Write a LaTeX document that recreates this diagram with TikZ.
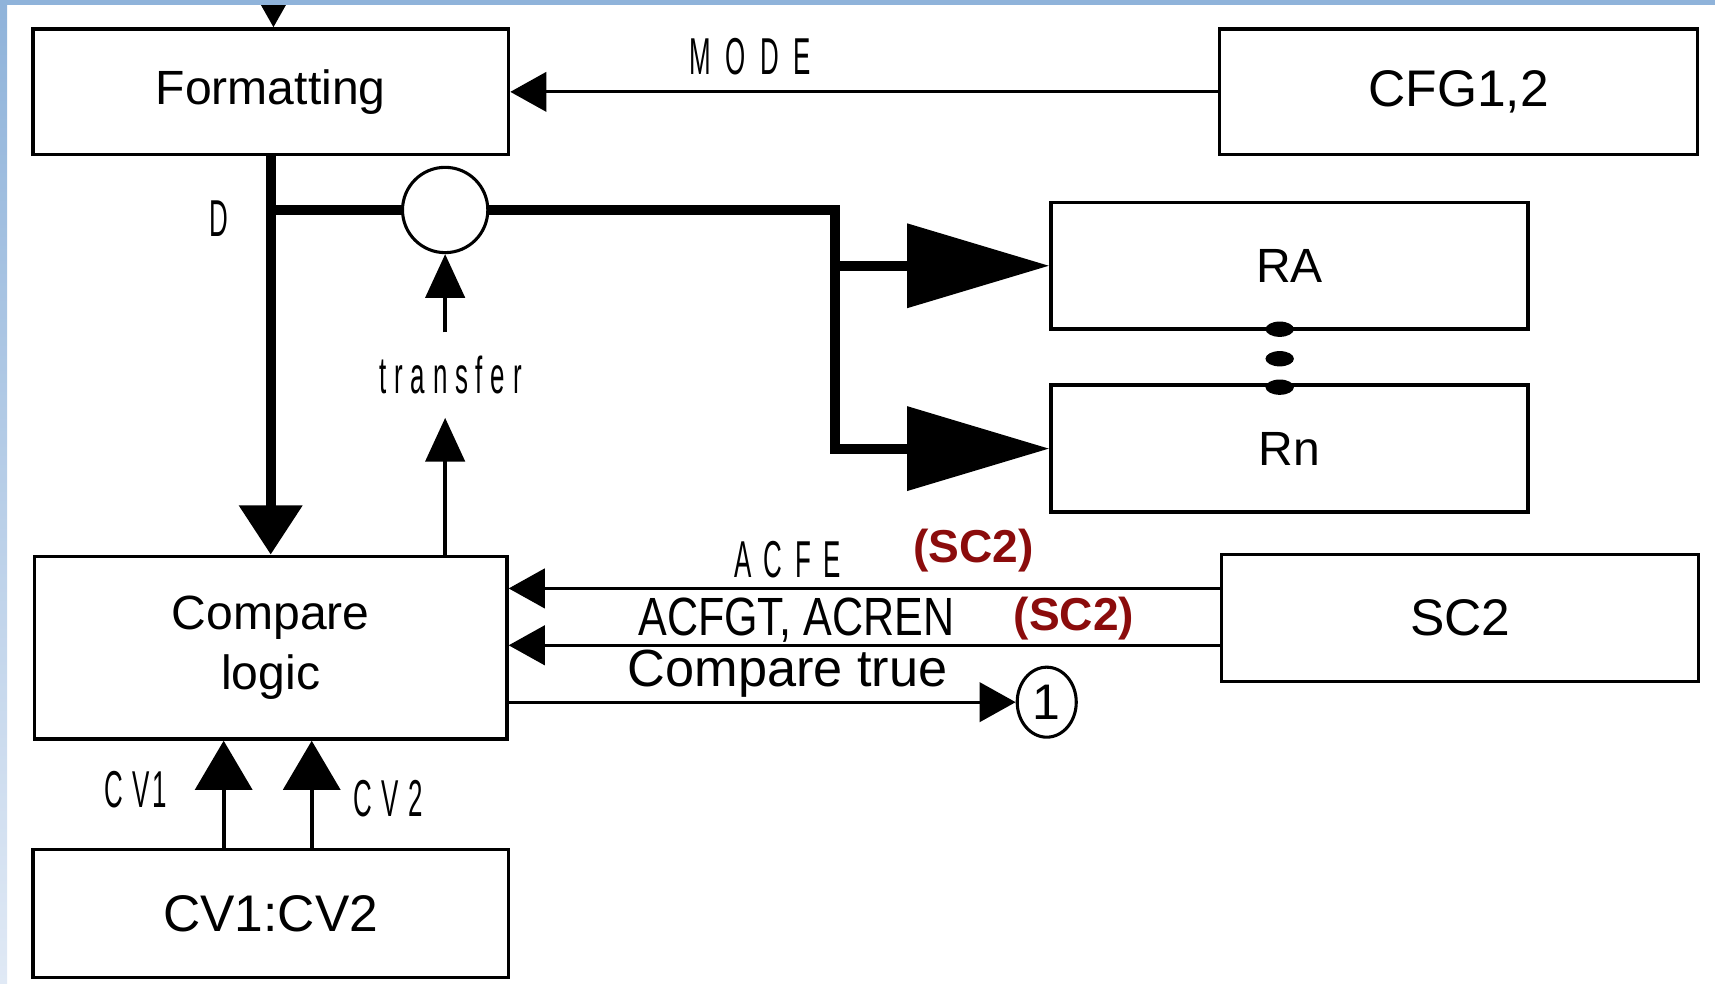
\documentclass[tikz,border=0pt]{standalone}
\usepackage{fontspec}
\setmainfont{Liberation Sans}
\newfontfamily\condfont[FakeStretch=0.5]{Liberation Sans}
\newfontfamily\semicondfont[FakeStretch=0.8]{Liberation Sans}
\usetikzlibrary{arrows.meta,calc,positioning,shapes.geometric}
\definecolor{scred}{RGB}{139,12,12}
\definecolor{frameblue}{RGB}{143,179,218}
\definecolor{frameblue2}{RGB}{224,233,245}

\begin{document}
\begin{tikzpicture}[
      block/.style={draw=black, line width=0.9pt, minimum width=4.35cm, minimum height=1.15cm,
        align=center, font=\fontsize{12.5}{15.6}\selectfont},
      tapnode/.style={draw=black, line width=0.8pt, circle, minimum size=0.78cm, inner sep=0pt},
      connector/.style={draw=black, line width=0.8pt, ellipse, minimum width=0.54cm,
        minimum height=0.64cm, inner sep=0pt, font=\fontsize{13}{15}\selectfont},
      sig/.style={font={\fontsize{13.5}{16}\condfont\addfontfeature{LetterSpace=#1}}, inner sep=0pt},
      sig/.default=0,
      note/.style={font=\bfseries\fontsize{12}{14}\selectfont, text=scred, inner sep=0pt},
      plain/.style={font=\fontsize{13.6}{16}\selectfont, inner sep=0pt},
      wire/.style={line width=0.8pt, -{Triangle[length=3.3mm,width=3.6mm]}},
      upwire/.style={line width=0.9pt, -{Triangle[length=4mm,width=3.6mm]}},
      cvwire/.style={line width=1.1pt, -{Triangle[length=4.5mm,width=5.2mm]}},
      bus/.style={line width=2.6pt, line join=miter},
      busarrow/.style={bus, -{Triangle[length=1.3cm,width=0.75cm]}}
    ]
    \useasboundingbox (0,0) rectangle (15.68,-8.99);

    \node[block] (fmt) at (2.475,-0.84) {Formatting};
    \node[block, minimum width=4.37cm, font=\fontsize{13.4}{16}\selectfont,
      right=6.47cm of fmt] (cfg) {CFG1,2};
    \node[block, minimum width=4.36cm, minimum height=1.16cm] (ra) at (11.79,-2.43) {RA};
    \node[block, minimum width=4.36cm, minimum height=1.16cm, below=0.48cm of ra] (rn) {Rn};
    \node[block, minimum width=4.32cm, minimum height=1.67cm, below=3.64cm of fmt] (cmp)
      {Compare\\logic};
    \node[block, minimum height=1.17cm, font=\fontsize{13.4}{16}\selectfont,
      below=0.98cm of cmp] (cv) {CV1:CV2};
    \node[block, minimum width=4.36cm, minimum height=1.16cm,
      font=\fontsize{13.4}{16}\selectfont] (sc) at (13.35,-5.65) {SC2};

    \node[tapnode] (tp) at (4.07,-1.92) {};
    \node[connector] (one) at (9.57,-6.42) {1};

    \node[sig=28] (mode) at (6.86,-0.52) {MODE};
    \node[sig] (dlbl) at (2.00,-2.00) {D};
    \node[sig=15, inner ysep=0.21cm] (xfer) at (4.12,-3.43) {transfer};
    \node[sig=24] (acfe) at (7.20,-5.12) {ACFE};
    \node[note] (sctagA) at (8.90,-5.03) {(SC2)};
    \node[inner sep=0pt, font={\fontsize{14}{16}\semicondfont}] (acfgt) at (7.28,-5.67)
      {ACFGT, ACREN};
    \node[note] (sctagB) at (9.82,-5.66) {(SC2)};
    \node[plain] (cmptrue) at (7.20,-6.16) {Compare true};
    \node[sig=5] (cvA) at (1.24,-7.22) {C V1};
    \node[sig=5] (cvB) at (3.55,-7.30) {C V 2};

    \coordinate (feed) at (2.50,-0.02);
    \coordinate (fork) at (7.63,-1.92);

    \draw[line width=0.8pt, -{Triangle[length=2.2mm,width=2.4mm]}] (feed) -- (feed |- fmt.north);
    \draw[wire] (cfg.west) -- (cfg.west -| fmt.east);
    \draw[bus, -{Triangle[length=4.5mm,width=5.6mm]}] (fmt.south) -- (fmt.south |- cmp.north);
    \draw[bus] (fmt.south |- tp) -- (tp.west);
    \draw[busarrow] (tp.east) -- (fork) -- (fork |- rn.west) -- (rn.west);
    \draw[busarrow] (fork |- ra.west) -- (ra.west);
    \foreach \dy in {3.01,3.28,3.54}
      \fill (11.70,-\dy) ellipse [x radius=0.13cm, y radius=0.07cm];
    \draw[upwire] (cmp.north -| tp) -- (xfer.south -| tp);
    \draw[upwire] (xfer.north -| tp) -- (tp.south);
    \draw[wire] ([yshift=0.27cm]sc.west) -- ([yshift=0.27cm]sc.west -| cmp.east);
    \draw[wire] ([yshift=-0.25cm]sc.west) -- ([yshift=-0.25cm]sc.west -| cmp.east);
    \draw[wire] (cmp.east |- one) -- (one);
    \draw[cvwire] ([xshift=-0.43cm]cv.north) -- ([xshift=-0.43cm]cv.north |- cmp.south);
    \draw[cvwire] ([xshift=0.375cm]cv.north) -- ([xshift=0.375cm]cv.north |- cmp.south);

    \fill[frameblue] (0,0) rectangle (15.68,-0.045);
    \shade[top color=frameblue, bottom color=frameblue2] (0,0) rectangle (0.065,-8.99);
  \end{tikzpicture}
\end{document}
